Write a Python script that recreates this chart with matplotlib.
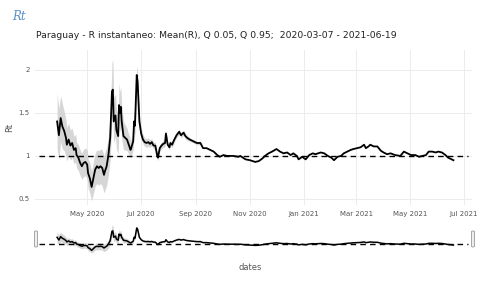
import pandas as pd
import matplotlib
matplotlib.use("Agg")
import matplotlib.pyplot as plt
from matplotlib.patches import FancyBboxPatch

# Rt estimate (mean of R)
rt_dates = [
    "2020-03-28", "2020-03-30", "2020-04-01", "2020-04-03", "2020-04-05", "2020-04-07",
    "2020-04-08", "2020-04-10", "2020-04-12", "2020-04-14", "2020-04-16", "2020-04-18",
    "2020-04-19", "2020-04-21", "2020-04-23", "2020-04-25", "2020-04-27", "2020-04-29",
    "2020-05-01", "2020-05-02", "2020-05-04", "2020-05-06", "2020-05-08", "2020-05-10",
    "2020-05-12", "2020-05-14", "2020-05-16", "2020-05-18", "2020-05-20", "2020-05-21",
    "2020-05-23", "2020-05-25", "2020-05-27", "2020-05-29", "2020-05-30", "2020-05-31",
    "2020-06-02", "2020-06-03", "2020-06-05", "2020-06-06", "2020-06-07", "2020-06-08",
    "2020-06-09", "2020-06-11", "2020-06-13", "2020-06-15", "2020-06-17", "2020-06-19",
    "2020-06-20", "2020-06-22", "2020-06-23", "2020-06-24", "2020-06-25", "2020-06-26",
    "2020-06-27", "2020-06-28", "2020-06-29", "2020-07-01", "2020-07-03", "2020-07-05",
    "2020-07-07", "2020-07-09", "2020-07-11", "2020-07-13", "2020-07-15", "2020-07-17",
    "2020-07-19", "2020-07-20", "2020-07-22", "2020-07-24", "2020-07-26", "2020-07-28",
    "2020-07-29", "2020-07-31", "2020-08-02", "2020-08-03", "2020-08-05", "2020-08-07",
    "2020-08-10", "2020-08-13", "2020-08-15", "2020-08-18", "2020-08-20", "2020-08-22",
    "2020-08-25", "2020-08-29", "2020-09-02", "2020-09-06",
    "2020-09-09", "2020-09-13", "2020-09-17", "2020-09-21", "2020-09-25", "2020-09-28",
    "2020-10-02", "2020-10-06", "2020-10-10", "2020-10-13", "2020-10-19", "2020-10-21",
    "2020-10-27", "2020-11-01", "2020-11-07", "2020-11-11", "2020-11-15", "2020-11-18",
    "2020-11-22", "2020-11-26", "2020-12-01", "2020-12-05", "2020-12-09", "2020-12-13",
    "2020-12-17", "2020-12-20", "2020-12-24", "2020-12-26", "2020-12-30", "2021-01-03",
    "2021-01-07", "2021-01-11", "2021-01-14", "2021-01-20", "2021-01-24", "2021-01-28",
    "2021-02-01", "2021-02-04", "2021-02-08", "2021-02-12", "2021-02-15", "2021-02-19",
    "2021-02-23", "2021-02-26", "2021-03-02", "2021-03-06", "2021-03-10", "2021-03-12",
    "2021-03-15", "2021-03-17", "2021-03-21", "2021-03-25", "2021-03-29", "2021-04-01",
    "2021-04-05", "2021-04-09", "2021-04-14", "2021-04-20", "2021-04-24", "2021-04-28",
    "2021-05-02", "2021-05-07", "2021-05-11", "2021-05-15", "2021-05-19", "2021-05-22",
    "2021-05-26", "2021-05-30", "2021-06-02", "2021-06-06", "2021-06-10", "2021-06-13",
    "2021-06-17", "2021-06-19",
]
rt_mean = [
    1.40, 1.24, 1.44, 1.34, 1.29, 1.21,
    1.13, 1.19, 1.12, 1.15, 1.07, 1.09,
    1.01, 0.98, 0.92, 0.88, 0.92, 0.93,
    0.90, 0.80, 0.74, 0.64, 0.74, 0.84,
    0.88, 0.86, 0.88, 0.86, 0.78, 0.82,
    0.88, 1.01, 1.21, 1.75, 1.77, 1.40,
    1.47, 1.30, 1.23, 1.59, 1.50, 1.57,
    1.40, 1.23, 1.21, 1.19, 1.13, 1.07,
    1.10, 1.17, 1.40, 1.35, 1.63, 1.94,
    1.86, 1.63, 1.40, 1.26, 1.19, 1.16,
    1.15, 1.16, 1.14, 1.16, 1.12, 1.12,
    1.01, 0.98, 1.09, 1.12, 1.14, 1.15,
    1.26, 1.13, 1.10, 1.15, 1.13, 1.18,
    1.24, 1.28, 1.24, 1.27, 1.23, 1.21,
    1.19, 1.17, 1.15, 1.15,
    1.09, 1.09, 1.07, 1.05, 1.01, 0.99,
    1.01, 1.00, 1.00, 1.00, 0.99, 1.00,
    0.96, 0.95, 0.93, 0.94, 0.97, 1.00,
    1.03, 1.05, 1.08, 1.05, 1.03, 1.04,
    1.01, 1.03, 1.00, 0.96, 0.99, 0.96,
    1.01, 1.03, 1.02, 1.04, 1.03, 1.00,
    0.98, 0.95, 0.99, 1.00, 1.03, 1.05,
    1.07, 1.08, 1.09, 1.10, 1.13, 1.09,
    1.11, 1.13, 1.11, 1.11, 1.06, 1.04,
    1.02, 1.03, 1.01, 1.00, 1.05, 1.03,
    1.01, 1.01, 0.99, 1.00, 1.01, 1.05,
    1.05, 1.04, 1.05, 1.04, 1.01, 0.98,
    0.96, 0.95,
]

# Q 0.05 / Q 0.95 band (visible only until early September; later it hides under the line)
q05 = [
    1.08, 0.96, 1.16, 1.08, 1.06, 1.00,
    0.94, 1.00, 0.95, 0.98, 0.91, 0.93,
    0.86, 0.83, 0.77, 0.73, 0.76, 0.77,
    0.73, 0.63, 0.57, 0.48, 0.56, 0.65,
    0.68, 0.66, 0.68, 0.65, 0.57, 0.60,
    0.66, 0.78, 0.95, 1.45, 1.45, 1.15,
    1.22, 1.08, 1.02, 1.35, 1.28, 1.35,
    1.20, 1.07, 1.07, 1.06, 1.02, 0.97,
    1.00, 1.07, 1.28, 1.24, 1.50, 1.80,
    1.74, 1.53, 1.32, 1.20, 1.14, 1.11,
    1.10, 1.11, 1.10, 1.12, 1.08, 1.08,
    0.97, 0.94, 1.05, 1.08, 1.10, 1.11,
    1.22, 1.10, 1.07, 1.12, 1.10, 1.15,
    1.21, 1.25, 1.21, 1.24, 1.20, 1.18,
    1.17, 1.15, 1.13, 1.13,
]
q95 = [
    1.73, 1.55, 1.70, 1.60, 1.52, 1.42,
    1.33, 1.38, 1.30, 1.32, 1.23, 1.25,
    1.16, 1.13, 1.07, 1.03, 1.08, 1.09,
    1.07, 0.97, 0.92, 0.82, 0.93, 1.03,
    1.07, 1.06, 1.08, 1.07, 1.00, 1.04,
    1.10, 1.23, 1.46, 2.08, 2.12, 1.68,
    1.72, 1.55, 1.46, 1.85, 1.74, 1.80,
    1.60, 1.40, 1.36, 1.32, 1.25, 1.18,
    1.20, 1.27, 1.52, 1.46, 1.76, 2.05,
    1.97, 1.73, 1.48, 1.33, 1.25, 1.21,
    1.20, 1.21, 1.19, 1.20, 1.16, 1.16,
    1.05, 1.02, 1.13, 1.16, 1.18, 1.19,
    1.30, 1.16, 1.13, 1.18, 1.16, 1.21,
    1.27, 1.31, 1.27, 1.30, 1.26, 1.24,
    1.21, 1.19, 1.17, 1.17,
]

ref_dates = ["2020-03-07", "2021-07-05"]
ref_level = [1, 1]

x_range = ["2020-03-03", "2021-07-10"]
y_range = [0.43, 2.23]
tick_dates = ["2020-05-01", "2020-07-01", "2020-09-01", "2020-11-01",
              "2021-01-01", "2021-03-01", "2021-05-01", "2021-07-01"]
tick_labels = ["May 2020", "Jul 2020", "Sep 2020", "Nov 2020",
               "Jan 2021", "Mar 2021", "May 2021", "Jul 2021"]
y_ticks = [0.5, 1, 1.5, 2]
y_labels = ["0.5", "1", "1.5", "2"]

dates = pd.to_datetime(rt_dates)
band_dates = dates[:len(q05)]
ref_x = pd.to_datetime(ref_dates)
xlim = pd.to_datetime(x_range)

W, H = 500, 281
fig = plt.figure(figsize=(5, 2.81), dpi=100)
fig.patch.set_facecolor("white")

BAND = "#d6d6d6"
GRID = "#ececec"
TXT = "#555555"


def draw(ax, lw):
    ax.fill_between(band_dates, q05, q95, color=BAND, linewidth=0, zorder=1)
    ax.plot(ref_x, ref_level, color="black", linestyle=(0, (4, 3)), linewidth=1.0, zorder=2)
    ax.plot(dates, rt_mean, color="black", linewidth=lw, zorder=3)
    ax.set_xlim(xlim[0], xlim[1])
    ax.set_ylim(*y_range)
    for s in ax.spines.values():
        s.set_visible(False)


# main panel
ax = fig.add_axes([35 / W, 1 - 205 / H, (472 - 35) / W, 155 / H])
draw(ax, 1.3)
ax.set_xticks(pd.to_datetime(tick_dates))
ax.set_xticklabels(tick_labels)
ax.set_yticks(y_ticks)
ax.set_yticklabels(y_labels)
ax.tick_params(length=0, labelsize=5, colors=TXT, pad=4)
ax.grid(True, color=GRID, linewidth=0.7)
ax.set_axisbelow(True)
ax.set_ylabel("Rt", fontsize=6, color=TXT, labelpad=3)

# range slider
rs = fig.add_axes([35 / W, 1 - 254 / H, (472 - 35) / W, 31 / H])
draw(rs, 1.1)
rs.set_xticks([])
rs.set_yticks([])
rs.patch.set_alpha(0)
for xc in (36, 473):
    fig.patches.append(FancyBboxPatch(((xc - 1.5) / W, 1 - 247 / H), 3 / W, 16 / H,
                                      boxstyle="round,pad=0,rounding_size=0.003",
                                      transform=fig.transFigure, facecolor="#eeeeee",
                                      edgecolor="#999999", linewidth=0.6))

fig.text(250 / W, 1 - 268 / H, "dates", ha="center", va="center", fontsize=6, color=TXT)
fig.text(12 / W, 1 - 16 / H, "Rt", ha="left", va="center", fontsize=8.5,
         family="DejaVu Serif", style="italic", color="#5b8fc7")
fig.text(36 / W, 1 - 35 / H,
         "Paraguay - R instantaneo: Mean(R), Q 0.05, Q 0.95;  2020-03-07 - 2021-06-19",
         ha="left", va="center", fontsize=6.7, color="#222222")

fig.savefig("out.png", dpi=100)
